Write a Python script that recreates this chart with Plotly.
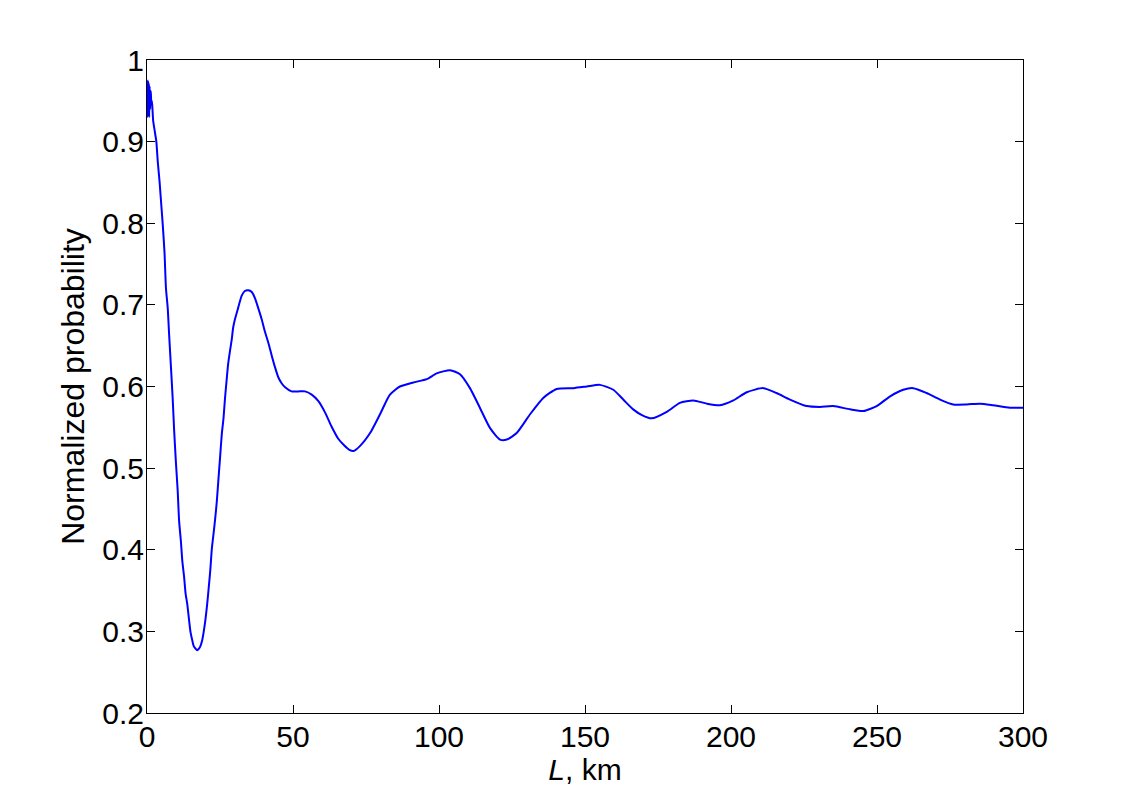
import plotly.graph_objects as go

L_km = [0.0, 0.15, 0.3, 0.45, 0.6, 0.75, 0.9, 1.1, 1.3, 1.5, 1.7, 2.1, 2.6, 3.2, 3.7, 4.3, 4.9,
        5.4, 6.0, 6.5, 7.1, 7.6, 8.2, 8.8, 9.3, 9.9, 10.5, 11.0, 11.6, 12.1, 12.7, 13.2,
        13.8, 14.4, 14.9, 15.5, 16.0, 16.6, 17.2, 17.8, 18.3, 18.9, 19.4, 20.0, 20.6,
        21.1, 21.7, 22.2, 22.8, 23.4, 23.9, 24.5, 25.0, 25.6, 26.2, 26.7, 27.3, 27.8,
        28.4, 29.0, 29.5, 30.1, 31.2, 32.4, 33.5, 34.7, 35.8, 37.0, 38.1, 39.3, 40.4,
        41.6, 42.7, 43.8, 45.0, 46.1, 47.3, 49.5, 51.8, 54.1, 56.4, 58.7, 61.0, 63.2,
        65.5, 67.5, 69.5, 70.7, 72.9, 76.4, 79.8, 83.2, 86.6, 91.2, 95.8, 99.2, 103.8,
        107.2, 110.6, 114.0, 117.5, 120.9, 123.2, 126.6, 131.2, 135.7, 140.3, 146.0,
        150.6, 155.1, 159.7, 163.1, 166.5, 169.5, 172.8, 178.0, 182.5, 187.1, 191.7,
        196.2, 200.8, 205.4, 211.1, 215.6, 220.2, 225.9, 230.5, 235.0, 240.8, 245.3,
        249.9, 254.5, 259.0, 262.4, 267.0, 271.6, 276.1, 280.7, 285.3, 289.8, 295.5,
        300.0]

prob = [0.975, 0.930, 0.975, 0.935, 0.972, 0.930, 0.968, 0.940, 0.962, 0.945, 0.950, 0.926,
        0.914, 0.900, 0.875, 0.851, 0.822, 0.798, 0.764, 0.720, 0.696, 0.662, 0.624,
        0.585, 0.546, 0.507, 0.473, 0.435, 0.411, 0.386, 0.367, 0.347, 0.333, 0.314,
        0.299, 0.289, 0.282, 0.279, 0.277, 0.279, 0.282, 0.289, 0.299, 0.314, 0.333,
        0.352, 0.376, 0.401, 0.420, 0.440, 0.459, 0.488, 0.512, 0.541, 0.561, 0.585,
        0.609, 0.628, 0.643, 0.657, 0.672, 0.682, 0.696, 0.711, 0.717, 0.718, 0.716,
        0.708, 0.696, 0.682, 0.667, 0.653, 0.638, 0.624, 0.611, 0.604, 0.599, 0.594,
        0.594, 0.594, 0.590, 0.582, 0.568, 0.551, 0.536, 0.528, 0.522, 0.521, 0.527,
        0.543, 0.566, 0.590, 0.600, 0.605, 0.609, 0.616, 0.620, 0.615, 0.598, 0.574,
        0.549, 0.535, 0.535, 0.543, 0.566, 0.586, 0.597, 0.598, 0.600, 0.602, 0.596,
        0.584, 0.572, 0.565, 0.561, 0.569, 0.580, 0.583, 0.579, 0.577, 0.583, 0.593,
        0.598, 0.592, 0.584, 0.576, 0.575, 0.576, 0.572, 0.570, 0.576, 0.588, 0.596,
        0.598, 0.592, 0.584, 0.578, 0.578, 0.579, 0.577, 0.574, 0.574]

x_ticks = [0, 50, 100, 150, 200, 250, 300]
y_ticks = [0.2, 0.3, 0.4, 0.5, 0.6, 0.7, 0.8, 0.9, 1.0]
y_tick_text = ["0.2", "0.3", "0.4", "0.5", "0.6", "0.7", "0.8", "0.9", "1"]

fig = go.Figure()
fig.add_trace(go.Scatter(x=L_km, y=prob, mode="lines",
                         line=dict(color="#0000ff", width=2, shape="spline", smoothing=0.6),
                         showlegend=False))

tick_font = dict(family="Liberation Sans, Arial, sans-serif", size=30, color="black")
xtitle_font = dict(family="Liberation Sans, Arial, sans-serif", size=30, color="black")
ytitle_font = dict(family="Liberation Sans, Arial, sans-serif", size=32, color="black")

fig.update_layout(
    width=1130, height=800,
    margin=dict(l=139, r=115, t=52, b=95),
    paper_bgcolor="white", plot_bgcolor="white",
    font=tick_font,
)
fig.update_xaxes(range=[0, 300], tickvals=x_ticks, ticks="inside", ticklen=8,
                 tickcolor="black", showline=True, linecolor="black", linewidth=1,
                 mirror="ticks", showgrid=False, zeroline=False,
                 tickfont=tick_font, ticklabelstandoff=-3,
                 title=dict(text="<i>L</i>, km", font=xtitle_font, standoff=0))
fig.update_yaxes(range=[0.2, 1.0], tickvals=y_ticks, ticktext=y_tick_text,
                 ticks="inside", ticklen=8,
                 tickcolor="black", showline=True, linecolor="black", linewidth=1,
                 mirror="ticks", showgrid=False, zeroline=False,
                 tickfont=tick_font, ticklabelstandoff=-4,
                 title=dict(text="Normalized probability", font=ytitle_font, standoff=8))

fig.write_html("out.html")
